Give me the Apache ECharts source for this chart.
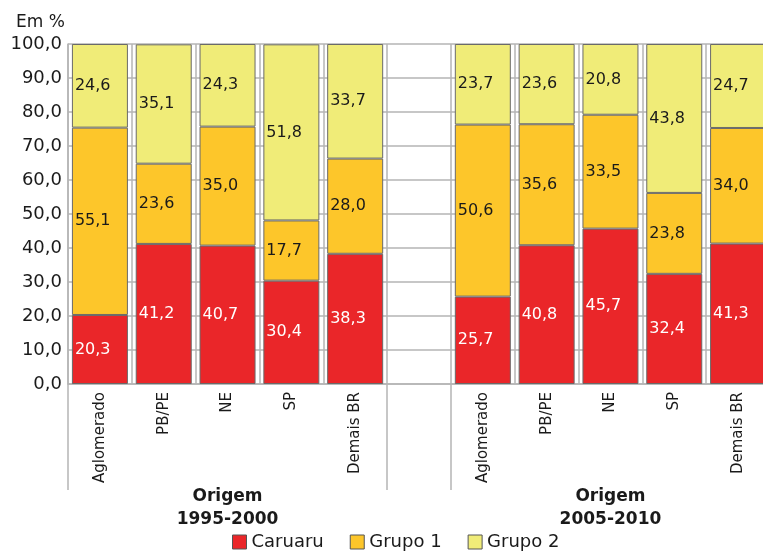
<!DOCTYPE html>
<html><head><meta charset="utf-8">
<script src="https://cdn.jsdelivr.net/npm/echarts@6/dist/echarts.min.js"></script>
<style>html,body{margin:0;padding:0;background:#fff}#c{width:763px;height:555px}</style>
</head><body><div id="c"></div>
<script>
const categories = ['Aglomerado','PB/PE','NE','SP','Demais BR','','Aglomerado','PB/PE','NE','SP','Demais BR'];
const caruaru = [20.3, 41.2, 40.7, 30.4, 38.3, null, 25.7, 40.8, 45.7, 32.4, 41.3];
const grupo1  = [55.1, 23.6, 35.0, 17.7, 28.0, null, 50.6, 35.6, 33.5, 23.8, 34.0];
const grupo2  = [24.6, 35.1, 24.3, 51.8, 33.7, null, 23.7, 23.6, 20.8, 43.8, 24.7];
const seriesNames = ['Caruaru','Grupo 1','Grupo 2'];
const groupLabels = ['Origem\n1995-2000','Origem\n2005-2010'];
const groupCenters = [2.5, 8.5];
const groupBounds = [0, 5, 6, 11];

const FONT = 'DejaVu Sans';
const fmt = v => v.toFixed(1).replace('.', ',');
const colors = ['#EA2629','#FDC62A','#F0EC78'];
const labelColors = ['#ffffff','#1a1a1a','#1a1a1a'];
const gridCol = '#b5b5b5';

const chart = echarts.init(document.getElementById('c'), null, {renderer:'canvas'});
const mk = (name, data, i) => ({
  name, type:'bar', stack:'t', data, barWidth:56, xAxisIndex:0,
  itemStyle:{color:colors[i], borderColor:'#6a6a6a', borderWidth:1},
  label:{show:true, position:'insideLeft', distance:3, color:labelColors[i],
    fontFamily:FONT, fontSize:16, formatter:p=>fmt(p.value)},
  emphasis:{disabled:true}, animation:false
});
chart.setOption({
  animation:false,
  textStyle:{fontFamily:FONT},
  title:{text:'Em %', left:11, top:9, textStyle:{fontFamily:FONT, fontSize:17, fontWeight:'normal', color:'#1a1a1a'}},
  grid:{left:68, width:702, top:44, height:340, containLabel:false, outerBoundsMode:'none'},
  legend:{data:seriesNames, top:533, left:232, padding:0, itemWidth:14, itemHeight:14, itemGap:26, icon:'rect',
    textStyle:{fontFamily:FONT, fontSize:18, color:'#1a1a1a'},
    itemStyle:{borderColor:'#555', borderWidth:1}},
  xAxis:[{
    type:'category', data:categories, boundaryGap:true,
    axisLine:{show:true, lineStyle:{color:gridCol, width:1.5}},
    axisTick:{show:false},
    splitLine:{show:true, interval:0, lineStyle:{color:gridCol, width:1.5}},
    axisLabel:{interval:0, rotate:90, margin:8, fontFamily:FONT, fontSize:15, color:'#1a1a1a'}
  },{
    type:'value', min:0, max:11, position:'bottom',
    axisLine:{show:false}, splitLine:{show:false},
    axisTick:{show:true, customValues:groupBounds, length:106, lineStyle:{color:gridCol, width:1.5}},
    axisLabel:{show:true, customValues:groupCenters, margin:101, fontFamily:FONT, fontSize:17, fontWeight:'bold',
      lineHeight:23, color:'#1a1a1a', formatter:v=>groupLabels[groupCenters.indexOf(v)]}
  }],
  yAxis:{type:'value', min:0, max:100, interval:10,
    axisLine:{show:true, lineStyle:{color:gridCol, width:1.5}},
    axisTick:{show:false},
    splitLine:{show:true, lineStyle:{color:gridCol, width:1.5}},
    axisLabel:{margin:6, fontFamily:FONT, fontSize:18, color:'#1a1a1a', formatter:fmt}},
  series:[mk(seriesNames[0], caruaru, 0), mk(seriesNames[1], grupo1, 1), mk(seriesNames[2], grupo2, 2)]
});
</script></body></html>
